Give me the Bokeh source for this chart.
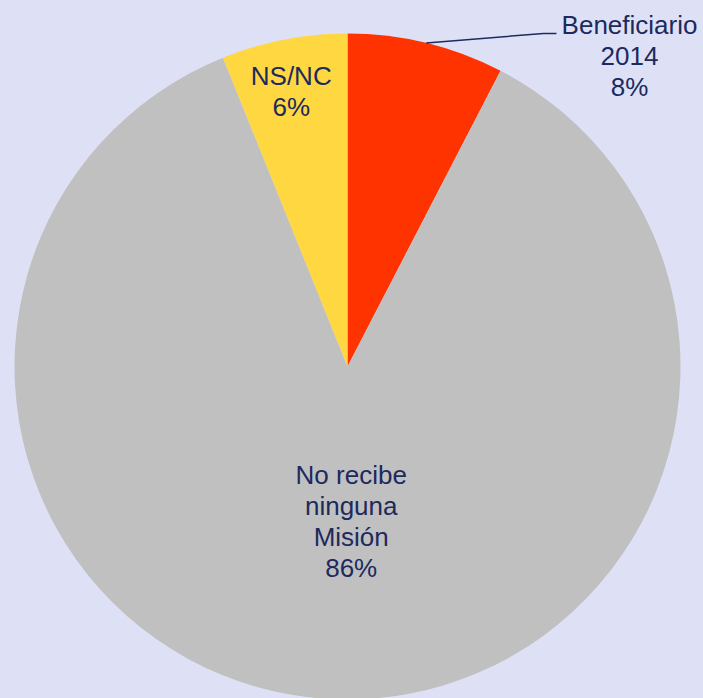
import numpy as np
from bokeh.plotting import figure
from bokeh.models import Range1d
from bokeh.embed import file_html
from bokeh.resources import INLINE
from bokeh.core.properties import value

# ---- data ----
categories = ["Beneficiario 2014", "No recibe ninguna Misión", "NS/NC"]
label_lines = [["Beneficiario", "2014"], ["No recibe", "ninguna", "Misión"], ["NS/NC"]]
shares = [7.6, 86.3, 6.1]
pct_labels = ["8%", "86%", "6%"]
colors = ["#FF3300", "#C0C0C0", "#FFD740"]

# ---- layout / style ----
BG = "#DEE1F5"
TXT = "#1C2A5E"
FONT = value("Liberation Sans")
W, H = 703, 698
cx, cy, R = 347, H - 366, 333
label_r = [None, 0.465, 0.84]   # fraction of radius for inside labels
label_dx = [0, 11, -3]
LINE_H = 31
FS = "26px"

p = figure(width=W, height=H, x_range=Range1d(0, W), y_range=Range1d(0, H),
           output_backend="svg", toolbar_location=None, min_border=0)
p.axis.visible = False
p.grid.visible = False
p.outline_line_color = None
p.background_fill_color = BG
p.border_fill_color = BG

frac = np.array(shares) / sum(shares)
ends = np.pi / 2 - 2 * np.pi * np.cumsum(frac)
starts = np.concatenate([[np.pi / 2], ends[:-1]])
mids = (starts + ends) / 2

p.wedge(x=[cx] * 3, y=[cy] * 3, radius=R, start_angle=list(starts), end_angle=list(ends),
        direction="clock", fill_color=colors, line_color=None)

def draw_lines(lines, xc, ymid):
    n = len(lines)
    for i, t in enumerate(lines):
        yb = ymid + ((n - 1) / 2 - i) * LINE_H
        p.text(x=[xc], y=[yb], text=[t], text_align="center", text_baseline="alphabetic",
               text_font=FONT, text_font_size=FS, text_color=TXT)

# inside labels
for k in (1, 2):
    xc = cx + label_r[k] * R * np.cos(mids[k]) + label_dx[k]
    yc = cy + label_r[k] * R * np.sin(mids[k])
    draw_lines(label_lines[k] + [pct_labels[k]], xc, yc)

# outside label with leader line for first slice
ex = cx + R * np.cos(mids[0])
ey = cy + R * np.sin(mids[0])
p.line(x=[ex, 543, 556], y=[ey, H - 33, H - 33], line_color=TXT, line_width=1.5)
draw_lines(label_lines[0] + [pct_labels[0]], 629, H - 55)

template = """{% block preamble %}<style>html, body {margin:0 !important; padding:0 !important; background:#DEE1F5;}</style>{% endblock %}"""
open("out.html", "w").write(file_html(p, INLINE, template=template))
